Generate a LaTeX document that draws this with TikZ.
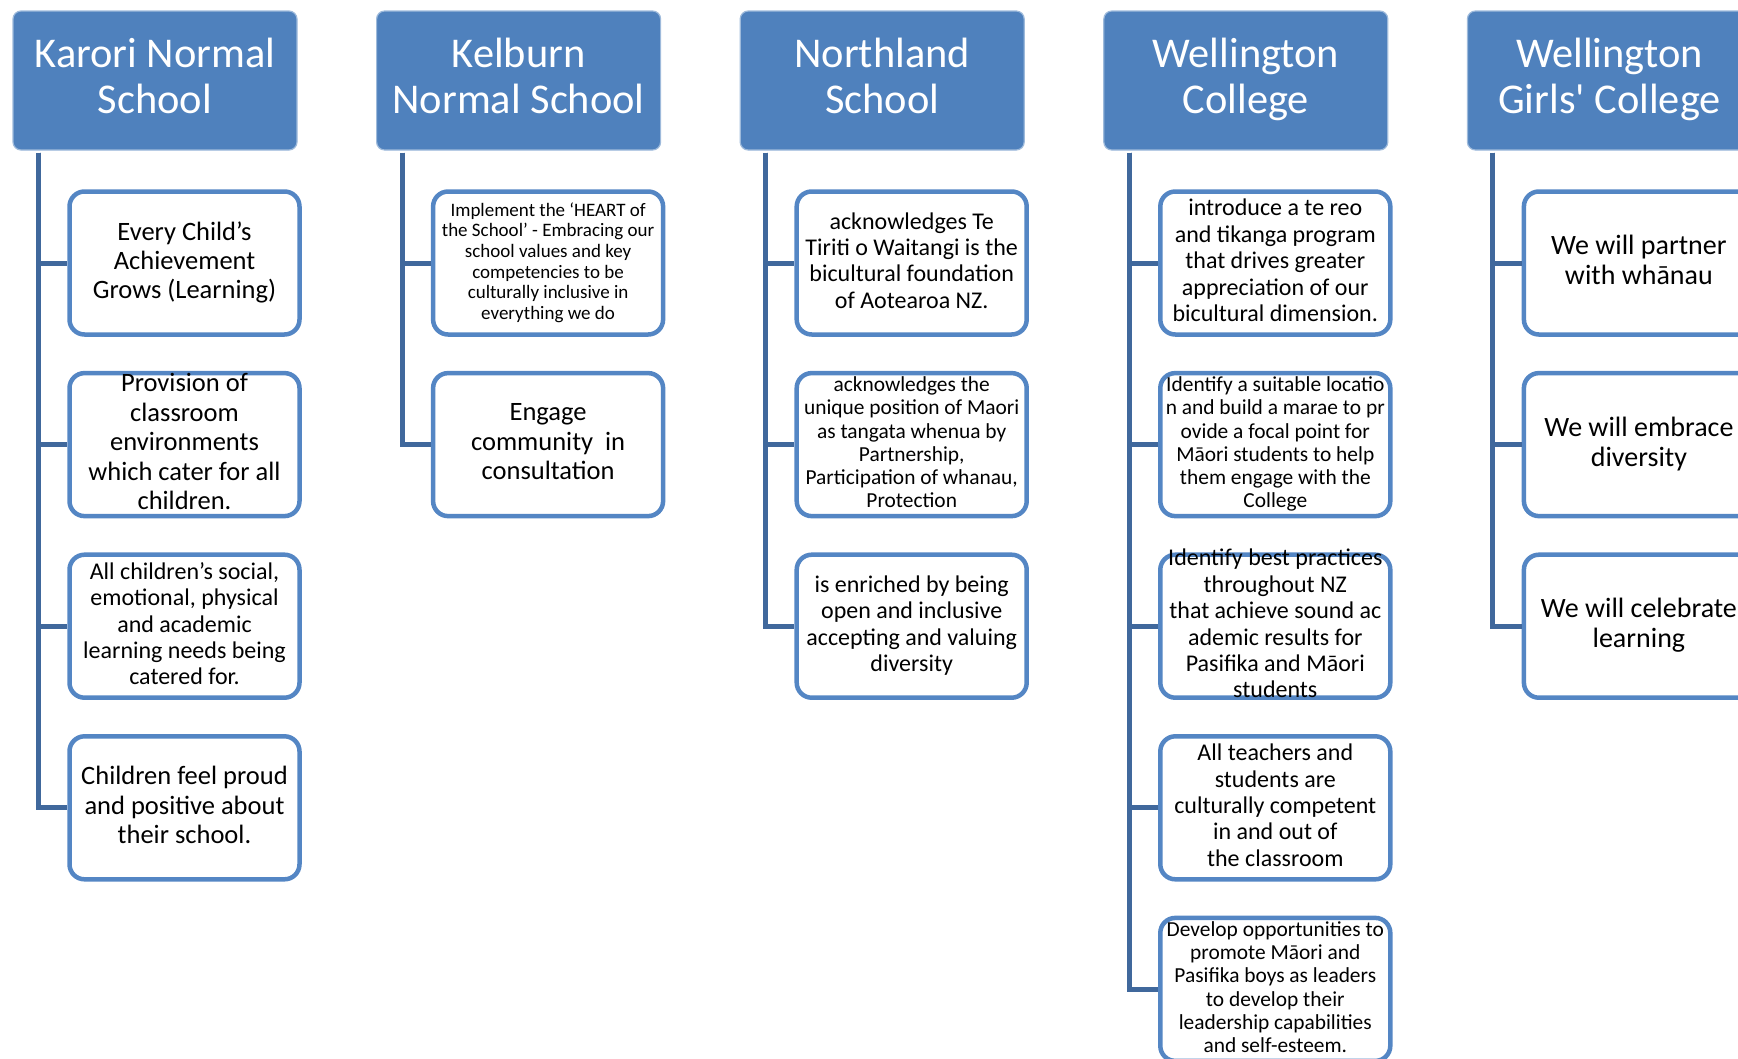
\documentclass[tikz,border=0pt]{standalone}
\usepackage{fontspec}
\setmainfont{Carlito}
\usepackage{tikz}

\definecolor{schoolblue}{RGB}{79,129,189}
\definecolor{goalblue}{RGB}{84,134,196}
\definecolor{linkblue}{RGB}{64,104,156}

\newcommand{\linestrut}{\rule[-0.2\baselineskip]{0pt}{\baselineskip}}

\tikzset{
  school/.style={rectangle, rounded corners=8pt, fill=schoolblue, draw=schoolblue!55!white,
    line width=1.2pt, minimum width=284pt, minimum height=139pt, text=white, align=center,
    inner ysep=0pt, execute at begin node=\linestrut, execute at end node=\linestrut,
    font=\fontsize{42.4}{46.5}\selectfont},
  goal/.style={rectangle, rounded corners=15pt, draw=goalblue, fill=white, line width=4.5pt,
    minimum width=230pt, minimum height=143pt, inner xsep=0pt, inner ysep=-9pt, align=center,
    execute at begin node=\linestrut, execute at end node=\linestrut},
  bigtext/.style={font=\fontsize{26.5}{29.4}\selectfont},
  midtext/.style={font=\fontsize{24}{26.4}\selectfont},
  smalltext/.style={font=\fontsize{21.4}{23.3}\selectfont},
  tinytext/.style={font=\fontsize{19}{20.7}\selectfont},
  widetext/.style={font=\fontsize{28}{30}\selectfont},
  link/.style={draw=linkblue, line width=5pt}
}

\begin{document}
\begin{tikzpicture}[x=1pt,y=-1pt]

\useasboundingbox (0,0) rectangle (1738,1058);

\node(kar)[school] at (155,80.5) {Karori Normal\\School};
\node(kel)[school] at (518.6,80.5) {Kelburn\\Normal School};
\node(nor)[school] at (882.2,80.5) {Northland\\School};
\node(wc)[school] at (1245.8,80.5) {Wellington\\College};
\node(wgc)[school] at (1609.4,80.5) {Wellington\\Girls\textquotesingle\ College};

\node(kar1)[goal,bigtext] at (184.5,263) {Every Child’s\\Achievement\\Grows (Learning)};
\node(kar2)[goal,bigtext] at (184.5,444.6) {Provision of\\classroom\\environments\\which cater for all\\children.};
\node(kar3)[goal,midtext] at (184.5,626.2) {All children’s social,\\emotional, physical\\and academic\\learning needs being\\catered for.};
\node(kar4)[goal,bigtext] at (184.5,807.8) {Children feel proud\\and positive about\\their school.};

\node(kel1)[goal,tinytext] at (548.1,263) {Implement the ‘HEART of\\the School’ - Embracing our\\school values and key\\competencies to be\\culturally inclusive in\\everything we do};
\node(kel2)[goal,bigtext] at (548.1,444.6) {Engage\\community\ \ in\\consultation};

\node(nor1)[goal,midtext] at (911.7,263) {acknowledges Te\\Tiriti o Waitangi is the\\bicultural foundation\\of Aotearoa NZ.};
\node(nor2)[goal,smalltext] at (911.7,444.6) {acknowledges the\\unique position of Maori\\as tangata whenua by\\Partnership,\\Participation of whanau,\\Protection};
\node(nor3)[goal,midtext] at (911.7,626.2) {is enriched by being\\open and inclusive\\accepting and valuing\\diversity};

\node(wc1)[goal,midtext] at (1275.3,263) {introduce a te reo\\and tikanga program\\that drives greater\\appreciation of our\\bicultural dimension.};
\node(wc2)[goal,smalltext] at (1275.3,444.6) {Identify a suitable locatio\\n and build a marae to pr\\ovide a focal point for\\Māori students to help\\them engage with the\\College};
\node(wc3)[goal,midtext] at (1275.3,626.2) {Identify best practices\\throughout NZ\\that achieve sound ac\\ademic results for\\Pasifika and Māori\\students};
\node(wc4)[goal,midtext] at (1275.3,807.8) {All teachers and\\students are\\culturally competent\\in and out of\\the classroom};
\node(wc5)[goal,smalltext] at (1275.3,989.4) {Develop opportunities to\\promote Māori and\\Pasifika boys as leaders\\to develop their\\leadership capabilities\\and self-esteem.};

\node(wgc1)[goal,widetext] at (1638.9,263) {We will partner\\with whānau};
\node(wgc2)[goal,widetext] at (1638.9,444.6) {We will embrace\\diversity};
\node(wgc3)[goal,widetext] at (1638.9,626.2) {We will celebrate\\learning};

\draw[link] ([xshift=26pt,yshift=-2pt]kar.south west) |- (kar1.west);
\draw[link] ([xshift=26pt,yshift=-2pt]kar.south west) |- (kar2.west);
\draw[link] ([xshift=26pt,yshift=-2pt]kar.south west) |- (kar3.west);
\draw[link] ([xshift=26pt,yshift=-2pt]kar.south west) |- (kar4.west);

\draw[link] ([xshift=26pt,yshift=-2pt]kel.south west) |- (kel1.west);
\draw[link] ([xshift=26pt,yshift=-2pt]kel.south west) |- (kel2.west);

\draw[link] ([xshift=26pt,yshift=-2pt]nor.south west) |- (nor1.west);
\draw[link] ([xshift=26pt,yshift=-2pt]nor.south west) |- (nor2.west);
\draw[link] ([xshift=26pt,yshift=-2pt]nor.south west) |- (nor3.west);

\draw[link] ([xshift=26pt,yshift=-2pt]wc.south west) |- (wc1.west);
\draw[link] ([xshift=26pt,yshift=-2pt]wc.south west) |- (wc2.west);
\draw[link] ([xshift=26pt,yshift=-2pt]wc.south west) |- (wc3.west);
\draw[link] ([xshift=26pt,yshift=-2pt]wc.south west) |- (wc4.west);
\draw[link] ([xshift=26pt,yshift=-2pt]wc.south west) |- (wc5.west);

\draw[link] ([xshift=26pt,yshift=-2pt]wgc.south west) |- (wgc1.west);
\draw[link] ([xshift=26pt,yshift=-2pt]wgc.south west) |- (wgc2.west);
\draw[link] ([xshift=26pt,yshift=-2pt]wgc.south west) |- (wgc3.west);

\end{tikzpicture}
\end{document}
